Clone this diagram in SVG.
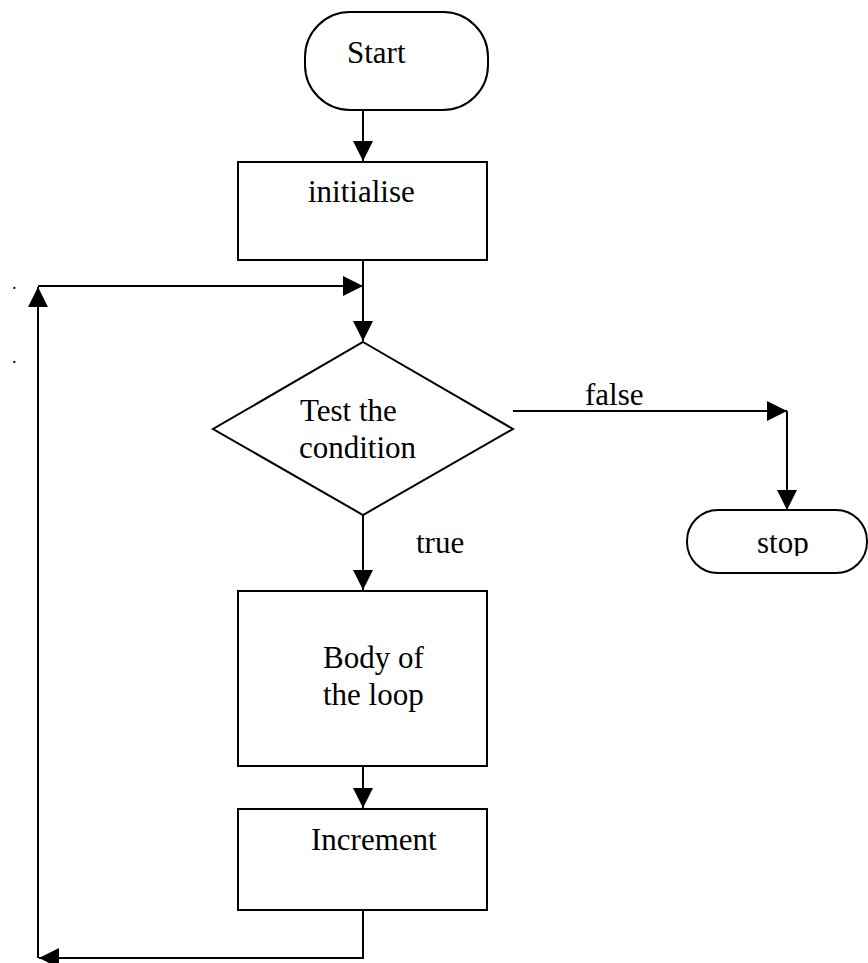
<svg xmlns="http://www.w3.org/2000/svg" width="868" height="963" viewBox="0 0 868 963">
<style>
.box{fill:#fff;stroke:#000;stroke-width:2}
.t{font-family:"Liberation Serif","Times New Roman",serif;font-size:31px;fill:#000}
.c{fill:none;stroke:#000;stroke-width:2}
.dot{font-family:"Liberation Serif","Times New Roman",serif;font-size:18px;fill:#000}
</style>
<defs>
<marker id="ah" markerUnits="userSpaceOnUse" markerWidth="20" markerHeight="20" refX="20" refY="10" orient="auto" viewBox="0 0 20 20">
<path d="M0,0 L20,10 L0,20 z" fill="#000"/>
</marker>
<clipPath id="stopclip"><rect x="680" y="505" width="190" height="51"/></clipPath>
</defs>
<rect width="868" height="963" fill="#fff"/>
<g id="connectors">
<path class="c" d="M363,110 V161" marker-end="url(#ah)"/>
<path class="c" d="M363,260 V341" marker-end="url(#ah)"/>
<path class="c" d="M38,286 H363" marker-end="url(#ah)"/>
<path class="c" d="M513,411 H787" marker-end="url(#ah)"/>
<path class="c" d="M787,411 V510" marker-end="url(#ah)"/>
<path class="c" d="M363,515 V590" marker-end="url(#ah)"/>
<path class="c" d="M363,766 V808" marker-end="url(#ah)"/>
<path class="c" d="M363,910 V958 H39" marker-end="url(#ah)"/>
<path class="c" d="M38,958 V287" marker-end="url(#ah)"/>
</g>
<g id="start">
<rect class="box" x="305" y="12" width="183" height="98" rx="45" ry="45"/>
<text class="t" x="347" y="63">Start</text>
</g>
<g id="initialise">
<rect class="box" x="238" y="162" width="249" height="98"/>
<text class="t" x="308" y="202">initialise</text>
</g>
<g id="condition">
<polygon class="box" points="363,342 513,429 363,515 213,429"/>
<text class="t" x="300" y="421">Test the</text>
<text class="t" x="299" y="458">condition</text>
</g>
<g id="stop">
<rect class="box" x="687" y="510" width="180" height="63" rx="31" ry="31"/>
<text class="t" x="757" y="553" clip-path="url(#stopclip)">stop</text>
</g>
<g id="body">
<rect class="box" x="238" y="591" width="249" height="175"/>
<text class="t" x="323" y="668">Body of</text>
<text class="t" x="323" y="705">the loop</text>
</g>
<g id="increment">
<rect class="box" x="238" y="809" width="249" height="101"/>
<text class="t" x="311" y="850">Increment</text>
</g>
<g id="labels">
<text class="t" x="585" y="405">false</text>
<text class="t" x="416" y="553">true</text>
<text class="dot" x="12" y="289">.</text>
<text class="dot" x="12" y="363">.</text>
</g>
</svg>
